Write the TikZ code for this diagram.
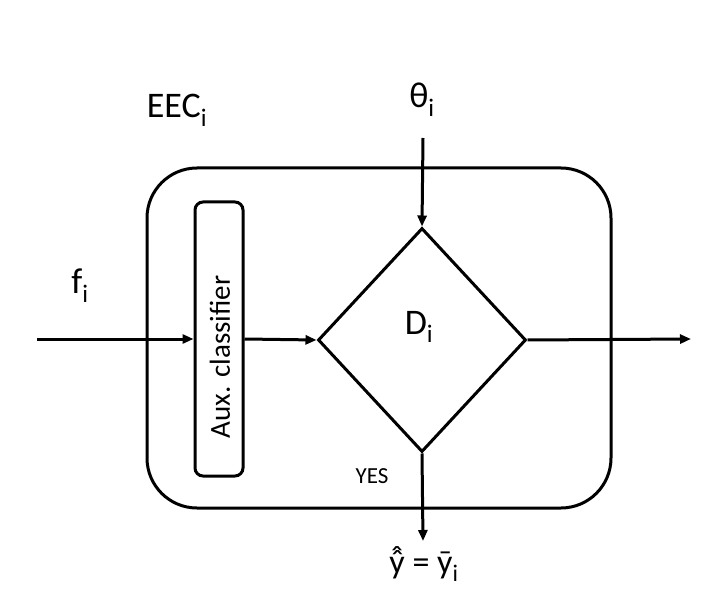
\documentclass[tikz,border=0pt]{standalone}
\usepackage{fontspec}
\setmainfont{Carlito}
\usetikzlibrary{arrows.meta,shapes.geometric}
\newcommand\dblhat{\ooalign{ŷ\cr\hidewidth\raisebox{0.13em}{ˆ}\hidewidth\cr}}
\begin{document}
\begin{tikzpicture}[x=1pt,y=-1pt,
  thick3/.style={line width=3pt},
  conn/.style={line width=3pt,-{Triangle[length=11pt,width=9pt]}},
  big/.style={inner sep=0pt,font=\fontsize{36}{40}\selectfont},
  mid/.style={inner sep=0pt,font=\fontsize{29}{34}\selectfont},
  small/.style={inner sep=0pt,font=\fontsize{23}{28}\selectfont}]
\useasboundingbox (0,0) rectangle (718,615);
\draw[thick3,rounded corners=50pt] (147,168) rectangle (611,508);
\node[draw,thick3,rounded corners=8pt,minimum width=48pt,minimum height=274pt,inner sep=0pt] (aux) at (219,339) {};
\node[mid,rotate=90] (auxlbl) at (220,357) {Aux. classifier};
\node[draw,thick3,diamond,minimum width=208pt,minimum height=224pt,inner sep=0pt] (dec) at (422,340) {};
\node[big] (dlbl) at (419,327) {D\textsubscript{i}};
\coordinate (in) at (37,339);
\coordinate (out) at (691,339);
\coordinate (thtop) at (423,138);
\coordinate (yend) at (423,541);
\draw[conn] (in) -- (aux.west|-in);
\draw[conn] (aux.east|-in) -- (dec.west);
\draw[conn] (dec.east) -- (out);
\draw[conn] (thtop) -- (dec.north);
\draw[conn] (dec.south) -- (yend);
\node[big] (eec) at (177,110) {EEC\textsubscript{i}};
\node[big] (theta) at (422,100) {θ\textsubscript{i}};
\node[big] (f) at (80,286) {f\textsubscript{i}};
\node[small] (yes) at (372,476) {YES};
\node[inner sep=0pt,font=\fontsize{34}{38}\selectfont] (yhat) at (424,566) {\dblhat{} = ȳ\textsubscript{i}};
\end{tikzpicture}
\end{document}
